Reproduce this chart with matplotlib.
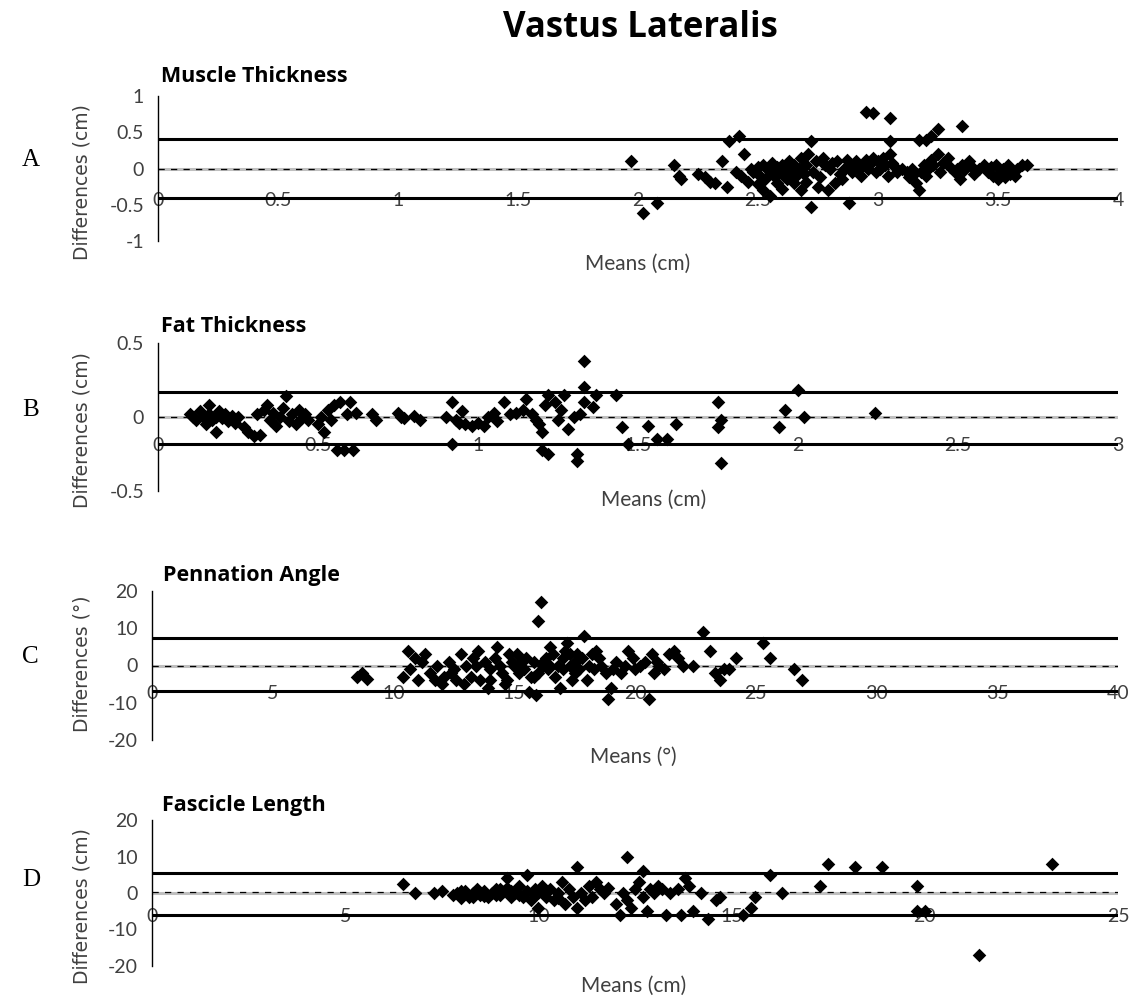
import matplotlib
matplotlib.use("Agg")
import matplotlib.pyplot as plt

# ---- Panel A: muscle thickness (cm) ----
mt_means = [1.97, 2.02, 2.08, 2.15, 2.17, 2.18, 2.25, 2.28, 2.30, 2.32, 2.35, 2.37, 2.38, 2.42, 2.43,
            2.44, 2.41, 2.46, 2.47,
            2.48, 2.50, 2.50, 2.51, 2.52, 2.52, 2.53, 2.54, 2.55, 2.55, 2.56, 2.57, 2.58, 2.58, 2.59,
            2.60, 2.60, 2.61, 2.62, 2.62, 2.63, 2.64, 2.65, 2.65, 2.66, 2.67, 2.68, 2.68, 2.69, 2.70,
            2.70, 2.71, 2.72, 2.73, 2.74, 2.75,
            2.76, 2.77, 2.78, 2.79, 2.80, 2.81, 2.82, 2.83, 2.84, 2.85, 2.86, 2.87, 2.88, 2.89, 2.90,
            2.91, 2.92, 2.93, 2.94, 2.95, 2.96, 2.97, 2.98, 2.99,
            2.72, 2.88, 2.95, 2.98, 3.05, 3.05,
            3.00, 3.01, 3.02, 3.03, 3.04, 3.05, 3.06, 3.07, 3.08, 3.10,
            3.12, 3.13, 3.14, 3.15, 3.16, 3.17, 3.18, 3.19, 3.20, 3.21, 3.22, 3.23, 3.25, 3.26, 3.27,
            3.29, 3.30, 3.17, 3.20, 3.22, 3.25, 3.35,
            3.32, 3.33, 3.34, 3.35, 3.36, 3.38, 3.39, 3.40, 3.42, 3.44, 3.46, 3.47, 3.48, 3.49, 3.50,
            3.51, 3.52, 3.53, 3.54, 3.55, 3.56, 3.57, 3.58, 3.60, 3.62]
mt_diffs = [0.10, -0.62, -0.47, 0.05, -0.10, -0.15, -0.08, -0.12, -0.18, -0.20, 0.10, -0.25, 0.38, 0.45, -0.10,
            0.20, -0.05, -0.18, 0.00,
            -0.05, 0.02, -0.22, -0.10, 0.05, -0.30, -0.15, 0.00, -0.05, -0.38, 0.08, -0.12, 0.02, -0.20, -0.05,
            0.05, -0.28, -0.10, 0.00, -0.15, 0.10, -0.05, -0.20, 0.05, -0.10, 0.00, 0.15, -0.30, -0.08, 0.05,
            -0.18, 0.20, 0.38, -0.05, 0.10, -0.25,
            -0.12, 0.15, 0.05, -0.30, 0.00, 0.08, -0.20, 0.10, -0.08, -0.15, 0.00, 0.12, 0.02, -0.05, 0.05,
            0.10, 0.00, -0.10, 0.05, 0.12, 0.00, 0.08, 0.15, -0.05,
            -0.53, -0.48, 0.78, 0.76, 0.70, 0.38,
            0.10, 0.00, 0.15, 0.05, -0.10, 0.20, 0.08, 0.02, -0.05, 0.00,
            -0.05, -0.12, 0.00, -0.08, -0.20, -0.30, -0.05, 0.05, -0.10, 0.00, 0.12, 0.05, 0.20, -0.05, 0.08,
            0.15, 0.02, 0.40, 0.40, 0.45, 0.55, 0.58,
            -0.05, 0.00, -0.15, 0.05, -0.02, 0.10, 0.02, -0.08, 0.00, 0.05, -0.05, 0.02, -0.10, 0.05, -0.15,
            -0.05, 0.00, -0.12, 0.05, -0.08, -0.02, -0.10, 0.00, 0.05, 0.05]
mt_limits = [0.41, -0.41]
mt_bias = 0.0

# ---- Panel B: fat thickness (cm) ----
ft_means = [0.10, 0.11, 0.12, 0.13, 0.14, 0.15, 0.16, 0.16, 0.17, 0.18, 0.18, 0.19, 0.20, 0.21, 0.22,
            0.23, 0.24, 0.25,
            0.27, 0.28, 0.30, 0.31, 0.32, 0.33, 0.34, 0.35, 0.36, 0.37, 0.38, 0.39, 0.40, 0.41, 0.42,
            0.43, 0.44, 0.45, 0.46, 0.47,
            0.50, 0.51, 0.52, 0.53, 0.54, 0.55, 0.56, 0.57, 0.58, 0.59, 0.60, 0.61, 0.62,
            0.67, 0.68, 0.75, 0.76, 0.77, 0.80, 0.82,
            0.90, 0.92, 0.92, 0.93, 0.94, 0.95, 0.96, 0.98, 1.00, 1.02,
            1.03, 1.05, 1.06, 1.08, 1.10, 1.12, 1.14, 1.15, 1.17, 1.18, 1.19, 1.20, 1.20, 1.21, 1.22,
            1.22, 1.24, 1.25, 1.26, 1.27, 1.28,
            1.30, 1.31, 1.31, 1.32, 1.33, 1.33, 1.33, 1.37, 1.36, 1.43,
            1.45, 1.47, 1.53, 1.56, 1.59, 1.62, 1.75, 1.75, 1.76, 1.76, 1.94, 1.96, 2.00, 2.02, 2.24]
ft_diffs = [0.02, 0.00, -0.02, 0.04, 0.00, -0.05, 0.08, 0.02, -0.02, 0.00, -0.10, 0.04, -0.01, 0.02, -0.03,
            0.01, -0.04, 0.00,
            -0.07, -0.10, -0.13, 0.02, -0.12, 0.05, 0.08, -0.02, 0.03, -0.06, 0.00, 0.06, 0.14, -0.03, 0.02,
            -0.05, 0.05, -0.01, 0.02, -0.02,
            -0.05, 0.00, -0.10, 0.05, -0.02, 0.08, -0.22, 0.10, -0.22, 0.02, 0.10, -0.22, 0.03,
            0.02, -0.02, 0.03, 0.00, -0.01, 0.01, -0.02,
            0.00, 0.10, -0.18, -0.02, -0.04, 0.04, -0.05, -0.06, -0.04, -0.06,
            0.00, 0.03, -0.03, 0.10, 0.02, 0.03, 0.05, 0.12, 0.02, -0.02, -0.05, -0.10, -0.22, 0.08, -0.25,
            0.15, 0.10, -0.02, 0.05, 0.15, -0.08,
            0.00, -0.25, -0.30, 0.02, 0.20, 0.38, 0.10, 0.15, 0.07, 0.15,
            -0.07, -0.18, -0.06, -0.15, -0.15, -0.05, 0.10, -0.07, -0.02, -0.31, -0.07, 0.05, 0.18, 0.00, 0.03]
ft_limits = [0.17, -0.18]
ft_bias = 0.0

# ---- Panel C: pennation angle (deg) ----
pa_means = [8.5, 8.7, 8.9, 10.4, 10.6, 10.7, 10.9, 11.0, 11.2, 11.3, 11.5, 11.8, 12.0, 12.1, 12.3,
            12.4, 12.6, 12.8, 12.9, 13.0, 13.2, 13.3, 13.5, 13.6, 13.8, 13.9, 14.0, 14.2, 14.3, 14.4,
            14.5, 14.6, 14.8, 14.9, 15.0, 15.1, 15.2, 15.3, 15.4, 15.6, 15.7, 15.8, 15.9, 16.0, 16.1,
            16.2, 16.3, 16.4, 16.5, 16.6, 16.7, 16.8, 16.9, 17.0, 17.1, 17.2, 17.3, 17.4, 17.5, 17.6,
            17.7, 17.8, 17.9, 18.0, 18.1, 18.2, 18.3, 18.4, 18.6, 18.8, 18.9, 19.0, 19.2, 19.4, 19.6,
            19.7, 19.9, 20.0, 20.2, 20.4, 20.6, 20.7, 20.8, 21.0, 21.2, 21.4, 21.6, 21.8, 22.0, 22.4,
            22.8, 23.1, 23.3, 23.5, 23.7, 23.9, 24.2, 25.3, 25.6, 26.6, 26.9,
            15.5, 16.0, 16.5, 17.0, 17.5, 18.5, 15.8, 14.0, 16.2, 17.3, 12.5, 13.4, 11.7, 14.7, 19.1, 20.9]
pa_diffs = [-3, -2, -3.5, -3, 4, -1, 2, -4, 1, 3, -2, 0, -5, -3, 1,
            -2, -4, 3, -5, 0, -3, 2, 4, -4, 1, -6, -4, 2, 5, 0,
            -2, -5, 3, 1, 0, 3, -2, 1, -1, -7, -3, 1, -8, 12, 17,
            0, 2, -1, 5, 3, -3, 0, -6, 2, 4, 6, 0, -4, 1, 3,
            -1, 2, 8, -4, 0, 3, -1, 4, 0, -2, -9, -6, 1, -2, 0,
            4, 2, -1, 0, 1, -9, 3, -2, 0, -1, 3, 4, 2, 0, 0,
            9, 4, -2, -4, -1, -1, 2, 6, 2, -1, -4,
            2, -2, 0, -1, -2, 2, -3, -1, 1, 3, -1, 0, -4, -4, -1, 1]
pa_limits = [7.3, -6.8]
pa_bias = 0.0

# ---- Panel D: fascicle length (cm) ----
fl_means = [6.5, 6.8, 7.3, 7.5, 7.8, 7.9, 8.0, 8.1, 8.2, 8.3, 8.4, 8.5, 8.6, 8.7, 8.8,
            8.9, 9.0, 9.1, 9.2, 9.2, 9.3, 9.4, 9.5, 9.6, 9.7, 9.7, 9.8, 9.9, 10.0, 10.0,
            10.1, 10.2, 10.3, 10.4, 10.5, 10.6, 10.7, 10.8, 10.9, 11.0, 11.0, 11.1, 11.2, 11.3, 11.4,
            11.5, 11.6, 11.7, 11.8, 12.0, 12.1, 12.2, 12.3, 12.3, 12.4, 12.5, 12.6, 12.7, 12.7, 12.8,
            12.9, 13.0, 13.1, 13.2, 13.3, 13.4, 13.6, 13.7, 13.8, 13.9, 14.0, 14.2, 14.4, 14.6, 14.7,
            15.3, 15.5, 15.6, 16.0, 16.3, 17.3, 17.5, 18.2, 18.9, 19.8, 19.8, 20.0, 21.4, 23.3,
            8.0, 8.3, 8.6, 8.9, 9.0, 9.3, 9.5, 9.9, 10.2, 10.5]
fl_diffs = [2.5, 0, 0, 0.5, -0.5, 0, -1.5, 0.5, -1, 0, 1, -0.5, 0.5, -1, 0,
            1, -0.5, 0.5, 4, 1.5, -1, 0, 2, -1, 0.5, 5, -2, 1, -4, 0,
            2, -1, 1, -2, 0, 3, -3, 1, -1, 7, -4, 0, -2, 2, -1,
            3, 1, 0, 1.5, -3, -6, 0, 10, -2, -4, 1, 3, -1, 6, -5,
            1, 0, 2, 1, -6, 0, 1, -6, 4, 2, -5, 0, -7, -2, -1,
            -6, -4, -1, 5, 0, 2, 8, 7, 7, 2, -5, -5, -17, 8,
            0.5, -1, -0.8, -0.5, 1, 0.5, -0.5, -0.5, 0.5, -1.5]
fl_limits = [5.6, -5.9]
fl_bias = 0.3

tick_color = "#404040"


def px_x(px):
    return px / 1136.0


def px_y(py):
    return 1 - py / 999.0


def draw_panel(rect, means, diffs, limits, bias, xlim, xticks, xtick_labels,
               ylim, yticks, ytick_labels):
    ax = fig.add_axes(rect)
    # zero axis (grey) with the dashed bias line on top
    ax.axhline(0, color="#bfbfbf", lw=2.2, zorder=1)
    ax.axhline(bias, color="black", lw=0.9, ls=(0, (5, 5)), zorder=2)
    for lim in limits:
        ax.axhline(lim, color="black", lw=2.2, zorder=2)
    ax.scatter(means, diffs, marker="D", s=48, color="black", zorder=3, linewidths=0)
    ax.set_xlim(*xlim)
    ax.set_ylim(*ylim)

    for side in ["top", "right"]:
        ax.spines[side].set_visible(False)
    ax.spines["bottom"].set_position(("data", limits[1]))
    ax.spines["bottom"].set_visible(False)
    ax.spines["left"].set_color("black")
    ax.spines["left"].set_linewidth(1.0)

    ax.set_xticks(xticks)
    ax.set_xticklabels(xtick_labels, fontsize=14, color=tick_color, family="Lato")
    ax.tick_params(axis="x", length=0, pad=-4.5)
    ax.set_yticks(yticks)
    ax.set_yticklabels(ytick_labels, fontsize=14, color=tick_color, family="Lato")
    ax.tick_params(axis="y", length=0, pad=10)
    ax.patch.set_alpha(0)
    return ax


fig = plt.figure(figsize=(11.36, 9.99), dpi=100)

draw_panel([px_x(158), px_y(241), 960 / 1136, 145 / 999], mt_means, mt_diffs, mt_limits, mt_bias,
           (0, 4), [0, 0.5, 1, 1.5, 2, 2.5, 3, 3.5, 4],
           ["0", "0.5", "1", "1.5", "2", "2.5", "3", "3.5", "4"],
           (-1, 1), [-1, -0.5, 0, 0.5, 1], ["-1", "-0.5", "0", "0.5", "1"])
draw_panel([px_x(158), px_y(491), 960 / 1136, 148 / 999], ft_means, ft_diffs, ft_limits, ft_bias,
           (0, 3), [0, 0.5, 1, 1.5, 2, 2.5, 3],
           ["0", "0.5", "1", "1.5", "2", "2.5", "3"],
           (-0.5, 0.5), [-0.5, 0, 0.5], ["-0.5", "0", "0.5"])
draw_panel([px_x(152), px_y(740), 966 / 1136, 149 / 999], pa_means, pa_diffs, pa_limits, pa_bias,
           (0, 40), [0, 5, 10, 15, 20, 25, 30, 35, 40],
           ["0", "5", "10", "15", "20", "25", "30", "35", "40"],
           (-20, 20), [-20, -10, 0, 10, 20], ["-20", "-10", "0", "10", "20"])
draw_panel([px_x(152), px_y(966), 966 / 1136, 146 / 999], fl_means, fl_diffs, fl_limits, fl_bias,
           (0, 25), [0, 5, 10, 15, 20, 25],
           ["0", "5", "10", "15", "20", "25"],
           (-20, 20), [-20, -10, 0, 10, 20], ["-20", "-10", "0", "10", "20"])

# figure texts
fig.text(px_x(640), px_y(28), "Vastus Lateralis", ha="center", va="center",
         fontsize=25, fontweight="bold", family="Open Sans")

panel_titles = ["Muscle Thickness", "Fat Thickness", "Pennation Angle", "Fascicle Length"]
title_pos = [(161, 77), (161, 326), (163, 576), (162, 805)]
for t, (x, y) in zip(panel_titles, title_pos):
    fig.text(px_x(x), px_y(y), t, ha="left", va="center", fontsize=15.5,
             fontweight="bold", family="Open Sans")

x_labels = ["Means (cm)", "Means (cm)", "Means (°)", "Means (cm)"]
x_label_pos = [(638, 264), (654, 500), (633, 757), (634, 986)]
for t, (x, y) in zip(x_labels, x_label_pos):
    fig.text(px_x(x), px_y(y), t, ha="center", va="center", fontsize=15,
             color=tick_color, family="Lato")

y_labels = ["Differences (cm)", "Differences (cm)", "Differences (°)", "Differences (cm)"]
y_label_pos = [182, 430, 664, 906]
for t, y in zip(y_labels, y_label_pos):
    fig.text(px_x(82), px_y(y), t, ha="center", va="center", rotation=90,
             fontsize=13.5, color=tick_color, family="DejaVu Sans")

letters = ["A", "B", "C", "D"]
letter_y = [160, 410, 657, 880]
for t, y in zip(letters, letter_y):
    fig.text(px_x(22), px_y(y), t, ha="left", va="center", fontsize=18,
             family="Liberation Serif")

fig.savefig("out.png", dpi=100)
